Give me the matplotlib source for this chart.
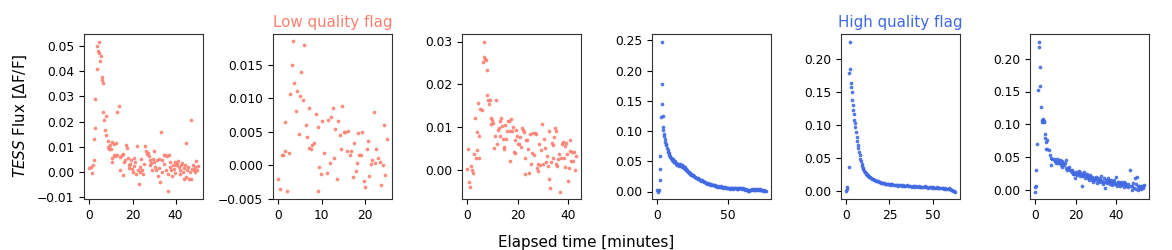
import matplotlib.pyplot as plt

# --- low quality flag lightcurves (salmon) ---
t1 = [0, 0.8, 1.2, 1.5, 2.0, 2.3, 2.5, 2.8, 3.4, 3.4, 4.3, 4.0, 4.6, 5.3, 5.0, 5.8, 6.0, 6.2, 6.5, 6.8,
      7.8, 7.1, 7.9, 8.5, 8.7, 9.3, 9.9, 9.6, 10.4, 11.2, 12.2, 10.4, 10.5, 11.2, 11.8, 12.7, 13.5, 13.0,
      14.0, 14.3, 15.0, 15.5, 15.8, 16.1, 16.6, 17.0, 17.4, 17.8, 18.2, 18.6, 18.9, 19.4, 19.7, 20.0,
      20.5, 20.8, 21.2, 21.7, 22.0, 22.4, 22.8, 23.3, 23.6, 24.0, 24.5, 24.8, 25.5, 25.9, 26.4, 26.7,
      27.1, 27.5, 27.9, 28.2, 28.7, 29.0, 29.5, 29.8, 30.1, 30.5, 31.0, 31.3, 31.6, 32.1, 32.5, 32.9,
      33.2, 33.5, 33.8, 34.4, 34.7, 35.2, 35.7, 36.0, 36.3, 36.6, 36.9, 37.3, 37.5, 37.8, 38.3, 38.8,
      39.1, 39.5, 39.8, 40.3, 40.6, 41.1, 41.4, 41.9, 42.2, 42.5, 43.0, 43.4, 43.7, 44.0, 44.5, 44.7,
      45.0, 45.3, 45.6, 46.1, 46.5, 47.0, 47.1, 47.4, 47.9, 48.4, 48.8, 49.1, 49.6, 49.9, 50.2]
f1 = [0.0017, 0.002, -0.0004, 0.0026, 0.0049, 0.0132, 0.0176, 0.029, 0.041, 0.050, 0.0517, 0.0478,
      0.047, 0.046, 0.0438, 0.0375, 0.0364, 0.0354, 0.0238, 0.0205, 0.0221, 0.0166, 0.0147, 0.0122,
      0.0099, 0.0093, 0.009, 0.0109, 0.012, 0.011, 0.0117, 0.0057, 0.004, 0.0066, 0.0062, 0.0236,
      0.0262, 0.0066, 0.006, 0.001, 0.0066, -0.0013, 0.0073, 0.004, 0.0046, 0.0109, 0.0097, 0.0057,
      0.0026, 0.0017, 0.0033, 0.0046, 0.0013, 0.0, 0.0057, 0.0023, 0.004, -0.0007, 0.0102, 0.0007,
      -0.0046, 0.0, 0.002, 0.0053, 0.0009, -0.0009, 0.003, 0.0102, 0.0083, 0.007, 0.0075, 0.0062,
      0.0046, 0.0026, 0.0036, 0.0007, 0.0053, 0.004, 0.0083, 0.002, 0.0007, 0.0046, -0.0017, 0.0053,
      0.0017, -0.004, 0.0159, 0.0049, 0.0, 0.0066, 0.0033, 0.0066, 0.0007, 0.0062, -0.0077, -0.0007,
      0.0066, 0.002, 0.004, 0.0007, -0.0017, 0.0026, 0.0013, 0.004, -0.0004, 0.0026, 0.0033, 0.0044,
      0.002, -0.0009, 0.0007, 0.0026, 0.0036, 0.0, 0.0017, -0.0026, 0.0026, 0.0117, -0.002, 0.0007,
      0.002, -0.0029, 0.0, 0.0207, -0.0026, 0.0013, 0.0026, 0.0007, 0.0, 0.002, 0.0044, 0.0007, 0.0023]

t2 = [0, 0.38, 0.85, 1.15, 1.46, 1.6, 2.0, 2.4, 2.77, 3.08, 3.4, 3.6, 4.0, 4.4, 4.7, 5.1, 5.2, 5.6, 6.0,
      6.3, 6.7, 7.1, 7.2, 7.5, 7.9, 8.2, 8.7, 9.1, 9.2, 9.5, 9.9, 10.2, 10.6, 11.2, 11.5, 11.9, 12.3,
      12.6, 13.0, 13.2, 13.5, 13.8, 14.2, 14.6, 14.8, 15.2, 15.5, 15.9, 16.2, 16.5, 16.8, 17.2, 17.5,
      17.9, 18.2, 18.5, 18.7, 19.1, 19.5, 19.8, 20.2, 20.5, 20.7, 21.1, 21.4, 21.8, 22.2, 22.5, 22.7,
      23.0, 23.5, 23.8, 24.2, 24.4, 24.7, 25.1]
f2 = [-0.0021, -0.0035, 0.0015, 0.0015, 0.0021, 0.0065, -0.0039, 0.0019, 0.0107, 0.015, 0.0185, 0.0123,
      0.0081, 0.0111, 0.0047, 0.0104, 0.0139, 0.0097, 0.018, 0.006, 0.0042, 0.0085, 0.0026, 0.0024,
      0.0031, 0.0034, 0.0076, -0.0038, 0.0058, -0.0003, -0.0013, 0.0067, 0.0018, -0.0011, 0.0068,
      0.0004, 0.0072, 0.0085, 0.0011, 0.0054, -0.002, 0.0067, 0.0046, 0.0024, 0.0089, 0.005, 0.005,
      0.0021, 0.0051, 0.0015, 0.0022, -0.0017, 0.0033, -0.0008, 0.0004, 0.0049, 0.0015, 0.0015, 0.005,
      -0.0023, -0.0032, 0.0025, 0.0037, -0.0016, 0.0002, 0.0008, 0.008, 0.0003, 0.0025, 0.0011, 0.0005,
      -0.003, 0.0, 0.0061, -0.0015, 0.004]

t3 = [0, 0.1, 0.5, 1.1, 1.6, 2.0, 2.3, 2.7, 2.9, 3.3, 3.7, 4.0, 4.3, 4.5, 4.8, 5.2, 5.7, 6.1, 6.4, 6.6,
      6.9, 7.2, 7.6, 7.8, 8.2, 8.5, 8.9, 9.2, 9.4, 9.8, 10.2, 10.6, 11.0, 11.3, 11.6, 12.0, 12.4, 12.8,
      13.0, 13.4, 13.7, 14.0, 14.4, 14.6, 15.0, 15.4, 15.7, 16.1, 16.4, 16.8, 17.0, 17.4, 17.7, 18.1,
      18.4, 18.8, 19.0, 19.4, 19.7, 20.1, 20.5, 20.9, 21.3, 21.7, 22.1, 22.5, 22.7, 23.0, 23.4, 23.8,
      24.2, 24.6, 25.0, 25.4, 25.8, 26.1, 26.5, 26.7, 27.1, 27.5, 27.9, 28.2, 28.6, 29.0, 29.4, 29.8,
      30.1, 30.5, 30.9, 31.2, 31.6, 32.0, 32.3, 32.6, 32.8, 33.1, 33.5, 33.9, 34.2, 34.4, 34.8, 35.1,
      35.4, 35.8, 36.2, 36.4, 36.8, 37.1, 37.5, 37.8, 38.2, 38.6, 38.8, 39.1, 39.5, 39.9, 40.3, 40.6,
      40.8, 41.1, 41.5, 41.8, 42.2, 42.6, 43.0]
f3 = [0.0004, 0.005, -0.0026, -0.0038, 0.0011, 0.0002, -0.0005, 0.0038, 0.0121, 0.0028, 0.0048, 0.0089,
      0.0156, 0.008, 0.0029, 0.0142, 0.014, 0.0253, 0.0265, 0.030, 0.026, 0.0257, 0.0233, 0.0176,
      0.0165, 0.0155, 0.0163, 0.0123, 0.0108, 0.0118, 0.0111, 0.0053, 0.008, 0.0163, 0.0062, 0.0093,
      0.0098, 0.0115, 0.0081, 0.0123, 0.0103, 0.0073, 0.0054, 0.005, 0.0105, 0.0073, 0.0092, 0.0114,
      0.0116, 0.0023, 0.0091, 0.0119, 0.0091, 0.0101, 0.0042, 0.0041, 0.007, 0.0093, 0.0079, 0.0062,
      0.0061, 0.0077, 0.0055, 0.0098, 0.0093, 0.009, -0.0009, 0.0029, 0.007, 0.007, 0.005, -0.0006,
      0.0084, 0.0015, 0.0041, 0.0087, 0.0037, 0.0088, 0.0084, 0.0005, -0.0002, 0.0016, 0.0062, 0.0012,
      0.0048, 0.0108, 0.0016, 0.0073, 0.0052, 0.0019, 0.0034, 0.0011, -0.0019, 0.0092, -0.0041, 0.0019,
      0.0063, 0.0059, 0.003, 0.0077, 0.0098, 0.0091, 0.0015, 0.0011, 0.0027, 0.0038, -0.0049, 0.003,
      0.0062, 0.0066, 0.0028, 0.0007, 0.0058, 0.0063, 0.0038, -0.0024, 0.0005, 0.007, 0.0045, 0.0021,
      0.0044, 0.0023, 0.0044, 0.0001, 0.0034]

# --- high quality flag lightcurves (blue) ---
t4 = [0.1, 0.5, 0.9, 1.6, 1.9, 2.2, 2.8, 3.1, 3.3, 3.5, 3.8, 4.0, 4.3, 4.6,
      4.9, 5.3, 5.7, 6.1, 6.5, 6.9, 7.3, 7.7, 8.1, 8.5, 8.9, 9.3, 9.7, 10.1, 10.5, 10.9, 11.3, 11.7,
      12.1, 12.5, 12.9, 13.3, 13.7, 14.1, 14.5, 14.9, 15.3, 15.7, 16.1, 16.5, 16.9, 17.3, 17.7, 18.1,
      18.5, 18.9, 19.3, 19.7, 20.1, 20.5, 20.9, 21.3, 21.7, 22.1, 22.5, 22.9, 23.3, 23.7, 24.1, 24.5,
      24.9, 25.5, 26.1, 26.7, 27.3, 27.9, 28.5, 29.1, 29.7, 30.3, 30.9, 31.5, 32.1, 32.7, 33.3, 33.9,
      34.5, 35.1, 35.7, 36.3, 36.9, 37.5, 38.1, 38.7, 39.3, 39.9, 40.5, 41.1, 41.7, 42.3, 42.9, 43.5,
      44.1, 44.7, 45.3, 45.9, 46.5, 47.1, 47.7, 48.3, 48.9, 49.5, 50.1, 50.7, 51.3, 51.9, 52.5, 53.1,
      53.7, 54.3, 54.9, 55.5, 56.1, 56.7, 57.3, 57.9, 58.5, 59.1, 59.7, 60.3, 60.9, 61.5, 62.1, 62.7,
      63.3, 63.9, 64.5, 65.1, 65.7, 66.3, 66.9, 67.5, 68.1, 68.7, 69.3, 69.9, 70.5, 71.1, 71.7, 72.3,
      72.9, 73.5, 74.1, 74.7, 75.3, 75.9, 76.5]
f4 = [0.002, 0.0, 0.002, 0.019, 0.038, 0.059, 0.124, 0.248, 0.178, 0.144, 0.125, 0.106, 0.101, 0.095,
      0.091, 0.086, 0.082, 0.079, 0.077, 0.072, 0.069, 0.066, 0.063, 0.061, 0.058, 0.057, 0.055, 0.054,
      0.052, 0.053, 0.050, 0.049, 0.048, 0.050, 0.046, 0.047, 0.045, 0.044, 0.046, 0.043, 0.042, 0.044,
      0.045, 0.042, 0.044, 0.041, 0.043, 0.040, 0.042, 0.039, 0.040, 0.037, 0.038, 0.036, 0.035, 0.034,
      0.033, 0.032, 0.030, 0.031, 0.029, 0.028, 0.029, 0.027, 0.026, 0.027, 0.025, 0.024, 0.023, 0.022,
      0.023, 0.021, 0.020, 0.019, 0.018, 0.019, 0.017, 0.016, 0.015, 0.016, 0.014, 0.013, 0.014, 0.012,
      0.013, 0.011, 0.012, 0.010, 0.011, 0.010, 0.009, 0.010, 0.009, 0.008, 0.0095, 0.008, 0.007,
      0.0085, 0.007, 0.008, 0.006, 0.0075, 0.007, 0.006, 0.0065, 0.005, 0.0065, 0.0055, 0.004, 0.006,
      0.005, 0.0065, 0.004, 0.0055, 0.005, 0.006, 0.0045, 0.0055, 0.004, 0.005, 0.0055, 0.006, 0.0045,
      0.005, 0.004, 0.0045, 0.0025, 0.0035, 0.002, 0.0015, 0.001, 0.002, 0.003, 0.0025, 0.004, 0.0025,
      0.0035, 0.002, 0.003, 0.004, 0.002, 0.0035, 0.0025, 0.003, 0.004, 0.002, 0.003, 0.0015, 0.0025,
      0.0015, 0.0005]

t5 = [0.0, 0.3, 0.6, 1.3, 1.5, 1.9, 2.3, 2.4, 2.7, 3.1, 3.3, 3.6, 3.9, 4.2, 4.6, 4.9, 5.2, 5.6, 6.0,
      6.3, 6.7, 7.0, 7.4, 7.8, 8.1, 8.5, 8.8, 9.2, 9.6, 9.9, 10.3, 10.7, 11.1, 11.5, 11.9, 12.3, 12.8,
      13.3, 13.8, 14.3, 14.8, 15.3, 15.8, 16.4, 17.0, 17.6, 18.2, 18.8, 19.4, 20.0, 20.6, 21.2, 21.8,
      22.4, 23.0, 23.6, 24.2, 24.8, 25.4, 26.0, 26.6, 27.3, 28.0, 28.7, 29.4, 30.1, 30.8, 31.5, 32.2,
      32.9, 33.6, 34.3, 35.0, 35.7, 36.4, 37.1, 37.8, 38.5, 39.2, 39.9, 40.6, 41.3, 42.0, 42.7, 43.4,
      44.1, 44.8, 45.5, 46.2, 46.9, 47.6, 48.3, 49.0, 49.7, 50.4, 51.1, 51.8, 52.5, 53.2, 53.9, 54.6,
      55.3, 56.0, 56.7, 57.4, 58.1, 58.8, 59.5, 60.2, 60.9, 61.4, 61.9, 62.4, 62.8]
f5 = [0.001, 0.004, 0.007, 0.036, 0.178, 0.226, 0.185, 0.164, 0.157, 0.149, 0.138, 0.130, 0.122, 0.116,
      0.108, 0.103, 0.097, 0.089, 0.082, 0.076, 0.070, 0.065, 0.059, 0.054, 0.049, 0.045, 0.041, 0.038,
      0.035, 0.033, 0.031, 0.029, 0.027, 0.026, 0.025, 0.024, 0.023, 0.022, 0.021, 0.020, 0.019, 0.018,
      0.0175, 0.017, 0.016, 0.0155, 0.015, 0.014, 0.0135, 0.013, 0.0125, 0.0125, 0.012, 0.0115, 0.0115,
      0.011, 0.0105, 0.011, 0.010, 0.0105, 0.0105, 0.0095, 0.010, 0.009, 0.0095, 0.0085, 0.009, 0.0095,
      0.0085, 0.009, 0.008, 0.0085, 0.009, 0.008, 0.0075, 0.0085, 0.007, 0.0075, 0.008, 0.0065, 0.0075,
      0.007, 0.0085, 0.0065, 0.007, 0.006, 0.0065, 0.0075, 0.006, 0.0065, 0.0055, 0.006, 0.0065, 0.005,
      0.006, 0.0055, 0.005, 0.0065, 0.005, 0.0045, 0.0055, 0.0045, 0.005, 0.004, 0.0045, 0.0035, 0.004,
      0.0045, 0.003, 0.0025, 0.002, 0.001, 0.0005, -0.0005]

t6 = [0.0, 0.0, 0.2, 0.5, 0.8, 1.2, 1.7, 2.0, 2.3, 2.3, 2.8, 3.2, 3.5, 3.9, 4.2, 4.5, 4.7, 5.0, 5.5, 6.0,
      5.4, 5.9, 6.7, 7.2, 7.9, 8.4, 8.0, 9.2, 10.0, 10.6, 11.1, 11.6, 12.1, 12.6, 13.1, 13.4, 13.9,
      14.4, 15.1, 15.4, 15.9, 16.4, 16.9, 17.6, 18.1, 18.4, 18.9, 19.4, 19.9, 20.4, 20.9, 21.4, 21.8,
      22.3, 22.8, 23.3, 23.8, 24.3, 24.8, 25.3, 25.8, 26.3, 26.8, 27.3, 27.8, 28.3, 28.8, 29.3, 29.8,
      30.3, 30.8, 31.3, 31.8, 32.3, 32.8, 33.3, 33.8, 34.3, 34.9, 35.2, 35.7, 36.2, 36.7, 37.2, 37.7,
      38.2, 38.7, 39.2, 39.7, 40.2, 40.7, 41.2, 41.7, 42.2, 42.7, 43.2, 43.7, 44.2, 44.7, 45.2, 45.7,
      46.2, 46.9, 47.4, 47.9, 48.4, 48.9, 49.4, 49.9, 50.4, 50.9, 51.3, 51.6, 51.9, 52.4, 52.8, 53.1,
      53.6, 53.9,
      9.6, 10.3, 11.4, 12.3, 13.6, 14.8, 16.1, 17.2, 18.7, 20.1, 21.1, 22.0, 23.0, 24.0, 25.0, 26.0,
      27.0, 28.0, 29.0, 30.0, 31.0, 32.0, 33.0, 34.0, 35.0, 36.0, 37.0, 38.0, 39.0, 40.0, 41.0, 42.0,
      43.0, 44.0, 45.0, 46.0, 48.0, 50.0, 52.0, 53.4]
f6 = [-0.002, 0.005, 0.006, 0.031, 0.070, 0.152, 0.226, 0.217, 0.187, 0.159, 0.126, 0.103, 0.106, 0.108,
      0.103, 0.105, 0.085, 0.080, 0.074, 0.077, 0.063, 0.063, 0.061, 0.053, 0.049, 0.047, 0.039, 0.048,
      0.044, 0.047, 0.041, 0.046, 0.042, 0.038, 0.044, 0.036, 0.042, 0.039, 0.046, 0.034, 0.030, 0.032,
      0.036, 0.029, 0.027, 0.030, 0.025, 0.024, 0.019, 0.028, 0.023, 0.025, 0.029, 0.022, 0.026, 0.006,
      0.023, 0.028, 0.018, 0.022, 0.025, 0.020, 0.015, 0.023, 0.018, 0.020, 0.013, 0.019, 0.015, 0.018,
      0.011, 0.019, 0.013, 0.015, 0.022, 0.012, 0.010, 0.018, 0.003, 0.015, 0.011, 0.019, 0.013, 0.010,
      0.016, 0.008, 0.012, 0.015, 0.010, 0.020, 0.007, 0.012, 0.010, 0.006, 0.013, 0.008, 0.010, 0.005,
      0.011, 0.006, 0.008, 0.005, 0.031, 0.006, 0.001, 0.011, 0.004, 0.018, 0.002, 0.020, 0.006, 0.0,
      0.006, 0.003, 0.002, 0.007, 0.005, 0.006, 0.008,
      0.045, 0.042, 0.043, 0.046, 0.040, 0.041, 0.034, 0.031, 0.028, 0.025, 0.027, 0.024, 0.021, 0.025,
      0.023, 0.019, 0.021, 0.016, 0.017, 0.020, 0.016, 0.017, 0.014, 0.013, 0.012, 0.016, 0.014, 0.011,
      0.012, 0.009, 0.013, 0.011, 0.009, 0.012, 0.008, 0.009, 0.007, 0.009, 0.004, 0.003]

low_col = '#FA8072'
high_col = '#4169E1'

panels = [(t1, f1, low_col, [0, 20, 40], [-0.01, 0.0, 0.01, 0.02, 0.03, 0.04, 0.05]),
          (t2, f2, low_col, [0, 10, 20], [-0.005, 0.0, 0.005, 0.010, 0.015]),
          (t3, f3, low_col, [0, 20, 40], [0.0, 0.01, 0.02, 0.03]),
          (t4, f4, high_col, [0, 50], [0.0, 0.05, 0.10, 0.15, 0.20, 0.25]),
          (t5, f5, high_col, [0, 25, 50], [0.0, 0.05, 0.10, 0.15, 0.20]),
          (t6, f6, high_col, [0, 20, 40], [0.0, 0.05, 0.10, 0.15, 0.20])]

W, H = 1172, 250
fig = plt.figure(figsize=(W/100, H/100), dpi=100)
lefts = [84, 273, 462, 652, 841, 1030]
axes = []
for i, (t, f, c, xt, yt) in enumerate(panels):
    ax = fig.add_axes([lefts[i]/W, 51/H, 119/W, 165/H])
    ax.scatter(t, f, s=7, color=c, linewidths=0, alpha=0.9)
    ax.set_xticks(xt)
    ax.set_yticks(yt)
    ax.tick_params(labelsize=8.8, length=3.5, width=0.8)
    for sp in ax.spines.values():
        sp.set_color('0.2')
        sp.set_linewidth(0.8)
    axes.append(ax)

axes[1].set_title('Low quality flag', color=low_col, fontsize=10.9, pad=5)
axes[4].set_title('High quality flag', color=high_col, fontsize=10.9, pad=5)

fig.text(586/W, 8/H, 'Elapsed time [minutes]', ha='center', va='center', fontsize=10.9)
fig.text(20/W, 134/H, r'$\it{TESS}$ Flux [ΔF/F]', rotation=90, ha='center', va='center', fontsize=10.9)

fig.savefig('out.png', dpi=100)
